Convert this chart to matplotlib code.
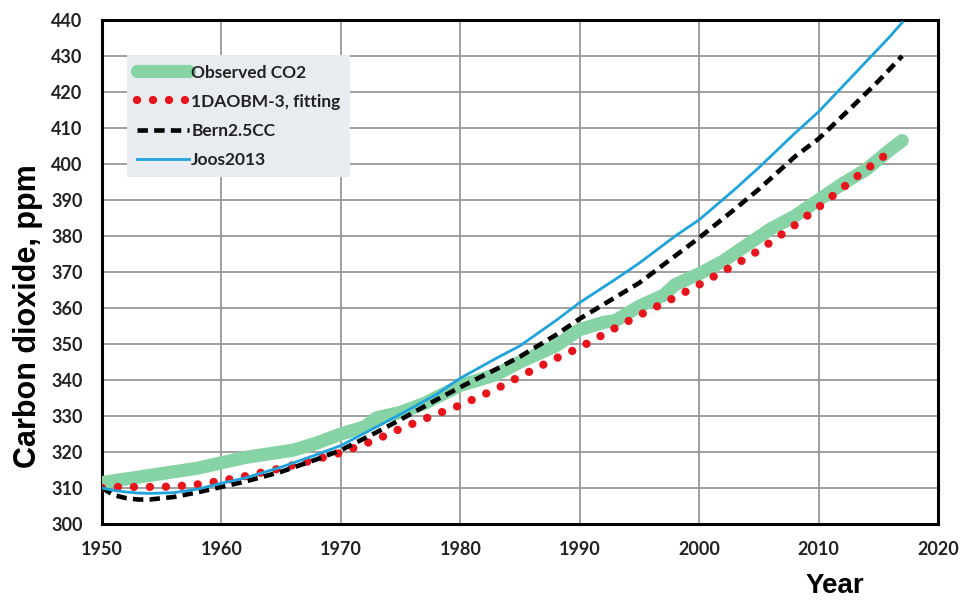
import numpy as np
import matplotlib.pyplot as plt

# Values
years_obs = [1950, 1952, 1954, 1956, 1958, 1960, 1962, 1964, 1966, 1968, 1970, 1972, 1973,
             1975, 1977, 1980, 1983, 1985, 1988, 1990, 1992, 1993, 1995, 1997, 1998, 2000,
             2002, 2004, 2006, 2008, 2010, 2012, 2014, 2016, 2017]
co2_obs = [311.5, 312.5, 313.5, 314.5, 315.5, 317.0, 318.5, 319.5, 320.5, 322.5, 325.0, 327.0,
           329.5, 331.0, 333.5, 338.5, 341.5, 345.0, 349.5, 354.0, 356.0, 356.5, 360.5, 363.5,
           366.5, 369.5, 373.0, 377.5, 382.0, 385.5, 390.0, 394.5, 398.5, 404.0, 406.5]

years_model = [1950, 1951, 1952, 1953, 1954, 1956, 1958, 1960, 1962, 1965, 1968, 1970, 1973,
               1975, 1978, 1980, 1983, 1985, 1988, 1990, 1993, 1995, 1998, 2000, 2003, 2005,
               2008, 2010, 2013, 2015, 2016, 2017]
co2_1daobm = [310.0, 310.3, 310.3, 310.3, 310.3, 310.4, 311.0, 312.0, 313.3, 315.5, 318.0, 319.8,
              323.5, 326.5, 330.5, 333.0, 337.5, 341.0, 346.0, 349.0, 354.5, 358.0, 363.0, 366.5,
              372.0, 376.0, 383.0, 388.0, 396.0, 401.0, 403.5, np.nan]
co2_bern = [310.0, 308.0, 307.2, 306.8, 306.8, 307.5, 308.8, 310.3, 311.8, 314.5, 318.0, 320.5,
            325.5, 329.0, 334.5, 338.0, 343.0, 346.5, 352.5, 357.0, 363.0, 367.0, 374.5, 379.5,
            387.5, 393.0, 402.0, 407.0, 416.5, 423.0, 426.5, 430.0]
co2_joos = [310.0, 309.3, 308.9, 308.6, 308.5, 308.7, 309.7, 311.3, 312.8, 315.8, 319.3, 321.8,
            327.0, 330.5, 336.0, 340.5, 346.0, 349.5, 356.5, 361.5, 368.0, 372.5, 380.0, 384.5,
            393.0, 399.0, 408.5, 414.5, 425.0, 432.0, 435.5, 439.3]

x_ticks = list(range(1950, 2021, 10))
y_ticks = list(range(300, 441, 10))

plt.rcParams["lines.scale_dashes"] = False

fig = plt.figure(figsize=(9.63, 6.03), dpi=100)
ax = fig.add_axes([102 / 963, 1 - 524 / 603, 836 / 963, 504 / 603])

ax.plot(years_obs, co2_obs, color="#86d4a6", lw=9.5, solid_capstyle="round",
        solid_joinstyle="round", label="Observed CO2", zorder=3)
ax.plot(years_model, co2_1daobm, color="#e8141b", lw=6, linestyle=(0, (0.01, 11.5)),
        dash_capstyle="round", label="1DAOBM-3, fitting", zorder=4)
ax.plot(years_model, co2_bern, color="black", lw=3.3, linestyle=(0, (7.5, 4.5)),
        label="Bern2.5CC", zorder=5)
ax.plot(years_model, co2_joos, color="#1fa3dc", lw=2, label="Joos2013", zorder=6)

ax.set_xlim(1950, 2020)
ax.set_ylim(300, 440)
ax.set_xticks(x_ticks)
ax.set_yticks(y_ticks)
ax.grid(True, color="#909090", lw=1.2)
ax.set_axisbelow(True)
ax.tick_params(length=0, pad=12, labelsize=13)
ax.tick_params(axis="y", pad=14)
for lab in ax.get_xticklabels() + ax.get_yticklabels():
    lab.set_fontweight("bold")
    lab.set_family("Lato")
    lab.set_color("#222222")
for s in ax.spines.values():
    s.set_linewidth(2.2)
    s.set_color("black")

fig.text(28 / 963, 1 - 316 / 603, "Carbon dioxide, ppm", fontsize=22, fontweight="bold",
         family="Liberation Sans", rotation=90, ha="center", va="center")
fig.text(835 / 963, 1 - 586 / 603, "Year", fontsize=20, fontweight="bold",
         family="Liberation Sans", ha="center", va="center")

leg = ax.legend(loc="upper left", bbox_to_anchor=(25 / 836, 1 - 35 / 504), borderaxespad=0,
                frameon=True, fancybox=False, framealpha=1, handlelength=3.0,
                handletextpad=0.15, labelspacing=0.75, borderpad=0.55,
                prop={"weight": "bold", "size": 12.5, "family": "Lato"})
leg.get_frame().set_facecolor("#e8ecf1")
leg.get_frame().set_edgecolor("none")
for t in leg.get_texts():
    t.set_color("#222222")

fig.savefig("out.png", dpi=100)
